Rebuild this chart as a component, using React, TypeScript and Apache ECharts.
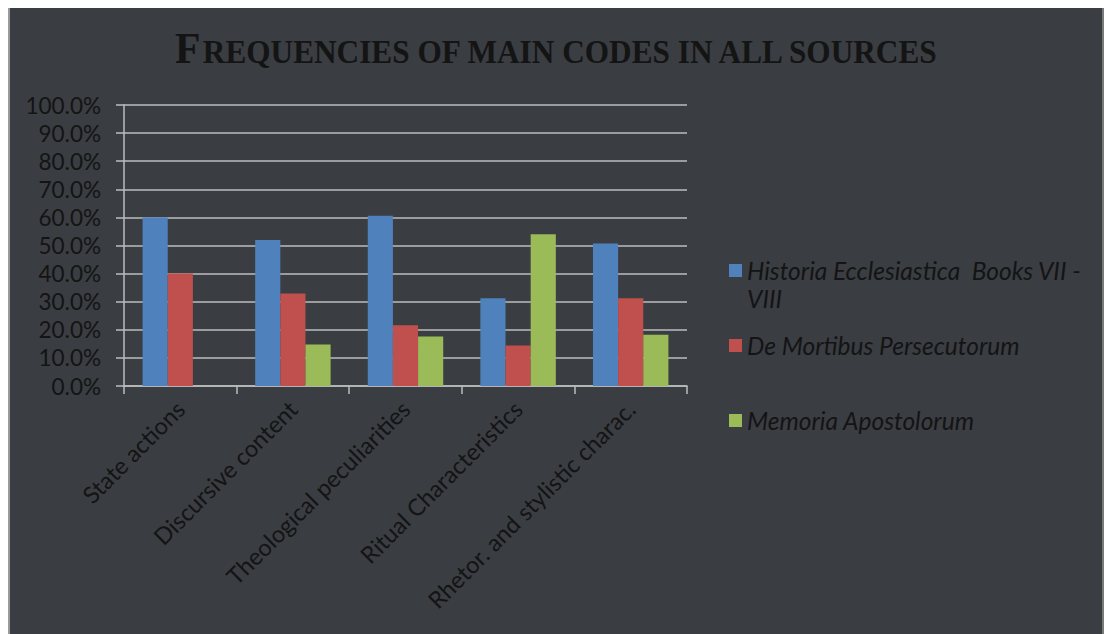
import React, { useEffect, useRef } from "react";
import * as echarts from "echarts";

const TITLE = "Frequencies of main codes in all sources";
const CATEGORIES = [
  "State actions",
  "Discursive content",
  "Theological peculiarities",
  "Ritual Characteristics",
  "Rhetor. and stylistic charac.",
];
const SERIES_NAMES = [
  "Historia Ecclesiastica  Books VII - VIII",
  "De Mortibus Persecutorum",
  "Memoria Apostolorum",
];
const HISTORIA = [0.6, 0.52, 0.606, 0.312, 0.507];
const DE_MORTIBUS = [0.4, 0.329, 0.216, 0.144, 0.312];
const MEMORIA = [0, 0.148, 0.176, 0.54, 0.182];
const COLORS = ["#4f81bd", "#c0504d", "#9bbb59"];
const Y_MIN = 0;
const Y_MAX = 1;
const Y_STEP = 0.1;

const TEXT_COLOR = "#141414";
const SANS = "Lato";
const SERIF = "Liberation Serif";

// Small caps: the first letter of the title is a full capital, the rest are small capitals.
function smallCaps(s: string) {
  return `{b|${s[0].toUpperCase()}}{s|${s.slice(1).toUpperCase()}}`;
}

export default function App() {
  const ref = useRef<HTMLDivElement>(null);
  useEffect(() => {
    if (!ref.current) return;
    const chart = echarts.init(ref.current, undefined, { renderer: "svg" });
    const values = [HISTORIA, DE_MORTIBUS, MEMORIA];
    const legendTops = [250, 325, 400];
    const [firstLine, secondLine] = (() => {
      const n = SERIES_NAMES[0];
      const i = n.lastIndexOf(" ");
      return [n.slice(0, i), n.slice(i + 1)];
    })();
    const legendFont = 24.5;
    chart.setOption({
      animation: false,
      backgroundColor: "#3a3d42",
      grid: { left: 116, right: 417, top: 97, bottom: 248, containLabel: false },
      xAxis: {
        type: "category",
        data: CATEGORIES,
        axisLine: { show: true, lineStyle: { color: "#bdbdbd", width: 1.5 } },
        axisTick: { show: true, length: 8, lineStyle: { color: "#bdbdbd", width: 1.5 } },
        axisLabel: {
          rotate: 45,
          margin: 19,
          color: TEXT_COLOR,
          fontFamily: SANS,
          fontSize: 23.5,
          interval: 0,
        },
        splitLine: { show: false },
      },
      yAxis: {
        type: "value",
        min: Y_MIN,
        max: Y_MAX,
        interval: Y_STEP,
        axisLine: { show: true, lineStyle: { color: "#bdbdbd", width: 1.5 } },
        axisTick: { show: true, length: 8, lineStyle: { color: "#bdbdbd", width: 1.5 } },
        axisLabel: {
          margin: 23,
          color: TEXT_COLOR,
          fontFamily: SANS,
          fontSize: 22.5,
          formatter: (v: number) => (v * 100).toFixed(1) + "%",
        },
        splitLine: { show: true, lineStyle: { color: "#bdbdbd", width: 1.5 } },
      },
      legend: SERIES_NAMES.map((name, i) => ({
        data: [name],
        orient: "vertical",
        left: 721,
        top: legendTops[i],
        padding: 0,
        icon: "rect",
        itemWidth: 13,
        itemHeight: 13,
        selectedMode: false,
        formatter: (n: string) => (i === 0 ? firstLine : n),
        textStyle: {
          color: TEXT_COLOR,
          fontFamily: SANS,
          fontStyle: "italic",
          fontSize: legendFont,
          lineHeight: 20,
        },
      })),
      graphic: [
        {
          type: "text",
          x: 549,
          y: 40,
          scaleX: 0.948,
          style: {
            text: smallCaps(TITLE),
            textAlign: "center",
            textVerticalAlign: "middle",
            fill: TEXT_COLOR,
            rich: {
              b: {
                fontFamily: SERIF,
                fontWeight: "bold",
                fontSize: 44,
                fill: TEXT_COLOR,
                verticalAlign: "bottom",
              },
              s: {
                fontFamily: SERIF,
                fontWeight: "bold",
                fontSize: 33,
                fill: TEXT_COLOR,
                verticalAlign: "bottom",
                padding: [0, 0, 2, 0],
              },
            },
          },
        },
        {
          type: "text",
          x: 739,
          y: 290,
          style: {
            text: secondLine,
            fill: TEXT_COLOR,
            font: `italic ${legendFont}px ${SANS}`,
            textVerticalAlign: "middle",
          },
        },
        { type: "rect", shape: { x: 0, y: 0, width: 2, height: 626 }, style: { fill: "#9a9a9a" } },
        { type: "rect", shape: { x: 1094, y: 0, width: 2, height: 626 }, style: { fill: "#7a7a7a" } },
      ],
      series: SERIES_NAMES.map((name, i) => ({
        name,
        type: "bar",
        data: values[i],
        itemStyle: { color: COLORS[i] },
        barGap: "0%",
        barCategoryGap: "33%",
      })),
    });
    return () => chart.dispose();
  }, []);
  return <div ref={ref} style={{ width: 1096, height: 626 }} />;
}
